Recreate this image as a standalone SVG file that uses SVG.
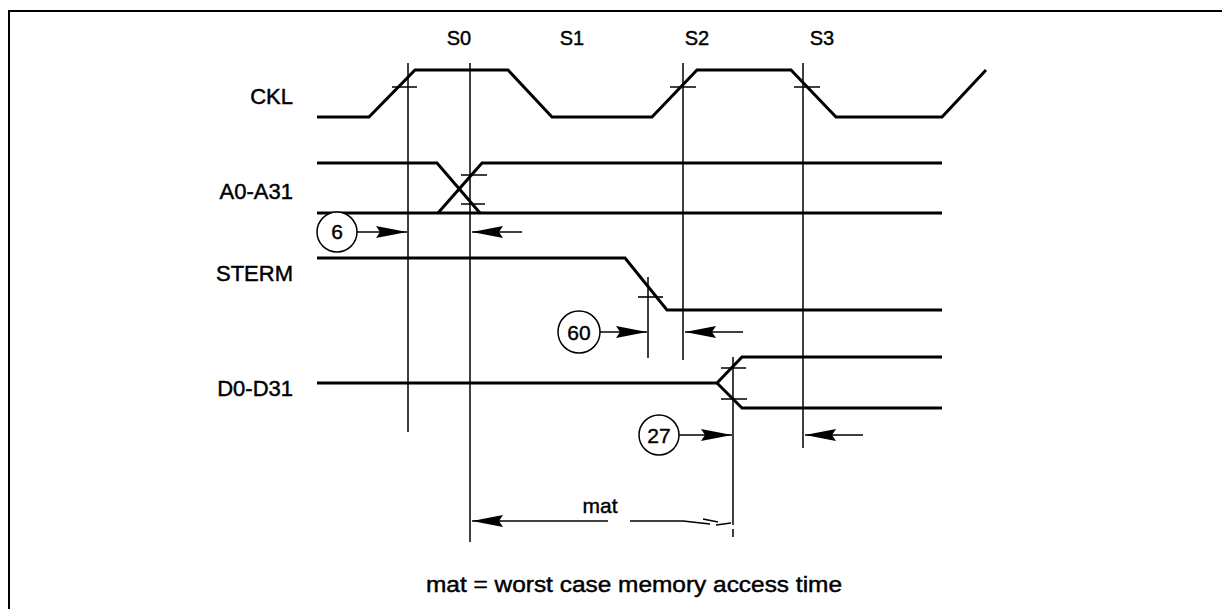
<svg xmlns="http://www.w3.org/2000/svg" width="1222" height="609" viewBox="0 0 1222 609">
<style>
.bg{fill:#fff}
.frame{stroke:#000;stroke-width:2;fill:none}
.wave{stroke:#000;stroke-width:3;fill:none;stroke-linejoin:miter}
.guide{stroke:#000;stroke-width:1.5;fill:none}
.tick{stroke:#000;stroke-width:1.6;fill:none}
.arr{stroke:#000;stroke-width:1.5;fill:none}
.lbl{font-family:"Liberation Sans",Arial,sans-serif;font-size:22px;fill:#000;stroke:#000;stroke-width:0.45}
.st{font-family:"Liberation Sans",Arial,sans-serif;font-size:20px;fill:#000;stroke:#000;stroke-width:0.4;text-anchor:middle}
.num{font-family:"Liberation Sans",Arial,sans-serif;font-size:21px;fill:#000;stroke:#000;stroke-width:0.4;text-anchor:middle}
.circ{stroke:#000;stroke-width:1.5;fill:#fff}
</style>
<defs>
<marker id="ah" markerUnits="userSpaceOnUse" markerWidth="32" markerHeight="14" refX="31" refY="7" orient="auto">
<path d="M0,1 L31,7 L0,13 L4,7 z" fill="#000"/>
</marker>
</defs>
<rect class="bg" x="0" y="0" width="1222" height="609"/>
<g id="frame">
<path class="frame" d="M9,609 L9,11 L1222,11"/>
</g>
<g id="states">
<text class="st" x="459" y="45">S0</text>
<text class="st" x="572" y="45">S1</text>
<text class="st" x="697" y="45">S2</text>
<text class="st" x="822" y="45">S3</text>
</g>
<g id="CKL">
<text class="lbl" x="293" y="104" text-anchor="end">CKL</text>
<path class="wave" d="M317,117 L369,117 L415,70 L508,70 L552,117 L652,117 L697,70 L791,70 L836,117 L942,117 L986,70"/>
<path class="tick" d="M392,87 L417,87 M670,87 L696,87 M794,87 L820,87"/>
</g>
<g id="A0-A31">
<text class="lbl" x="293" y="199" text-anchor="end">A0-A31</text>
<path class="wave" d="M317,163 L437,163 L480,213"/>
<path class="wave" d="M438,213 L482,163 L942,163"/>
<path class="wave" d="M317,213 L942,213"/>
<path class="tick" d="M461,175 L487,175 M461,204 L485,204"/>
</g>
<g id="STERM">
<text class="lbl" x="293" y="281" text-anchor="end">STERM</text>
<path class="wave" d="M317,258 L625,258 L667,310 L942,310"/>
<path class="tick" d="M638,297 L663,297"/>
</g>
<g id="D0-D31">
<text class="lbl" x="293" y="396" text-anchor="end">D0-D31</text>
<path class="wave" d="M317,383 L717,383 L742,357 L942,357"/>
<path class="wave" d="M717,383 L742,408 L942,408"/>
<path class="tick" d="M721,368 L746,368 M721,399 L747,399"/>
</g>
<g id="connectors">
<path class="guide" d="M408,63 L408,432"/>
<path class="guide" d="M470,63 L470,542"/>
<path class="guide" d="M683,63 L683,360"/>
<path class="guide" d="M803,63 L803,448"/>
<path class="guide" d="M648,277 L648,358"/>
<path class="guide" d="M733,357 L733,525 M733,529 L733,537"/>
<line class="arr" x1="357" y1="232" x2="407" y2="232" marker-end="url(#ah)"/>
<line class="arr" x1="522" y1="232" x2="472" y2="232" marker-end="url(#ah)"/>
<line class="arr" x1="600" y1="332" x2="647" y2="332" marker-end="url(#ah)"/>
<line class="arr" x1="743" y1="332" x2="685" y2="332" marker-end="url(#ah)"/>
<line class="arr" x1="679" y1="435" x2="732" y2="435" marker-end="url(#ah)"/>
<line class="arr" x1="863" y1="435" x2="805" y2="435" marker-end="url(#ah)"/>
<line class="arr" x1="608" y1="521" x2="472" y2="521" marker-end="url(#ah)"/>
<path class="arr" d="M630,521 L683,521 L710,524"/>
<path class="arr" d="M703,519 L718,522 M716,525 L731,523"/>
</g>
<g id="ann6">
<circle class="circ" cx="337" cy="232" r="20"/>
<text class="num" x="337" y="239">6</text>
</g>
<g id="ann60">
<circle class="circ" cx="579" cy="332" r="21"/>
<text class="num" x="579" y="340">60</text>
</g>
<g id="ann27">
<circle class="circ" cx="659" cy="435" r="20"/>
<text class="num" x="659" y="443">27</text>
</g>
<g id="mat">
<text class="st" x="600" y="513" style="font-size:21px">mat</text>
</g>
<g id="caption">
<text class="lbl" x="426" y="592" textLength="416" lengthAdjust="spacingAndGlyphs" style="font-size:22px">mat = worst case memory access time</text>
</g>
</svg>
